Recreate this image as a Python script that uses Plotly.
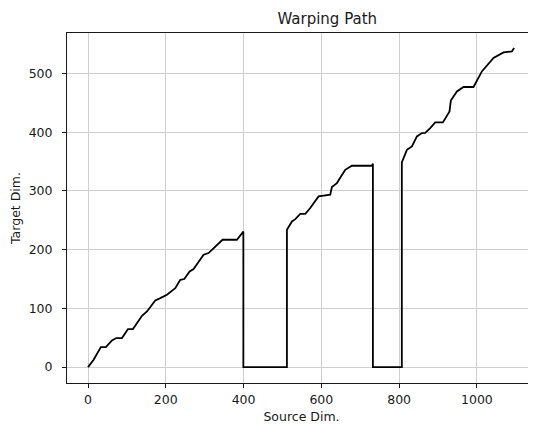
import plotly.graph_objects as go

# Warping path vertices (source index, target index)
source_idx = [0, 14.5, 33, 46, 61.6, 72.8, 87.4, 102.8, 115.6, 138.8, 151.7, 173, 185.9,
              203, 224.4, 237.3, 247.6, 261.3, 271.5, 297.2, 310, 323, 346, 383, 398.5,
              399.5, 399.5, 511.5, 511.5, 524.4, 533, 545.8, 558.7, 571.5, 592.9, 622.9,
              627.2, 640, 661.4, 678.6, 730, 732.6, 732.6, 807, 807, 820, 832.9, 845.8,
              858.6, 867, 880, 892.8, 912.6, 929.6, 933, 948.6, 965.6, 991.3, 1012.8,
              1042.7, 1068.4, 1090, 1095.8]
target_idx = [0, 12.4, 34, 34, 45.4, 49.4, 49.4, 64.7, 64.7, 87.4, 94.7, 113.5, 117.5,
              123.2, 134.5, 148.7, 150, 163, 167, 191.3, 194.2, 202.7, 216.9, 216.9, 231,
              231, 0, 0, 233.9, 248, 252, 261, 261, 270.9, 290.6, 293.5,
              306.6, 313.4, 336, 342.9, 342.9, 346.3, 0, 0, 348.6, 370, 375.7, 392.8,
              398.6, 399, 407, 416.7, 416.7, 435.4, 454, 469.5, 477, 477, 503.6,
              526.4, 536, 537.7, 543.5]

x_ticks = [0, 200, 400, 600, 800, 1000]
y_ticks = [0, 100, 200, 300, 400, 500]

fig = go.Figure(go.Scatter(x=source_idx, y=target_idx, mode="lines",
                           line=dict(color="black", width=1.8), hoverinfo="skip"))

# The page body has an 8px default margin, so the figure is sized/offset to compensate.
W, H = 528, 416
font = dict(family="DejaVu Sans", size=12.5, color="#1a1a1a")
fig.update_layout(
    width=W, height=H,
    margin=dict(l=59, r=0, t=25, b=41, autoexpand=False),
    paper_bgcolor="white", plot_bgcolor="white",
    showlegend=False,
    title=dict(text="Warping Path", x=(301 - 8) / W, xanchor="center", xref="paper",
               y=1 - 11 / H, yanchor="middle", automargin=False,
               font=dict(family="DejaVu Sans", size=15, color="#1a1a1a")),
    font=font,
)
fig.update_xaxes(range=[-54, 1152], tickvals=x_ticks, ticks="outside", ticklen=4,
                 tickcolor="#1a1a1a", showline=True, linecolor="#1a1a1a", linewidth=1,
                 mirror=True, showgrid=True, gridcolor="#cfcfcf", gridwidth=1,
                 zeroline=False, tickfont=font, ticklabelstandoff=1, automargin=False,
                 title=dict(text="Source Dim.", font=font, standoff=12))
fig.update_yaxes(range=[-27.1, 569], tickvals=y_ticks, ticks="outside", ticklen=4,
                 tickcolor="#1a1a1a", showline=True, linecolor="#1a1a1a", linewidth=1,
                 mirror=False, showgrid=True, gridcolor="#cfcfcf", gridwidth=1,
                 zeroline=False, tickfont=font, ticklabelstandoff=7, automargin=False,
                 title=dict(text="Target Dim.", font=font, standoff=8))

fig.write_html("out.html")
